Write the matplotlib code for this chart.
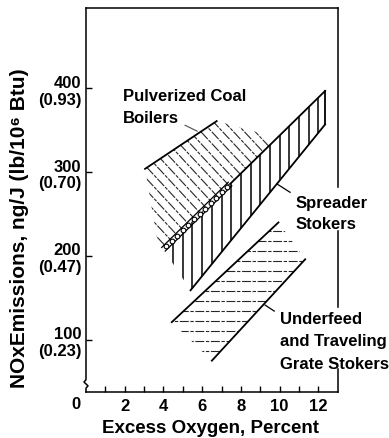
import numpy as np
import matplotlib
matplotlib.use('Agg')
import matplotlib.pyplot as plt
from matplotlib.patches import Polygon
from matplotlib.transforms import offset_copy, blended_transform_factory

plt.rcParams['font.family'] = ['Liberation Sans', 'DejaVu Sans']
plt.rcParams['font.weight'] = 'bold'

# bands: (excess O2 %, NOx ng/J) corners
pulv_x = [3.05, 6.75, 8.8, 9.5, 4.0, 3.67]
pulv_y = [304, 361, 348, 332, 208, 220]
pulv_top_x = [3.05, 6.75]
pulv_top_y = [304, 361]

spr_x = [4.0, 12.35, 12.35, 5.4]
spr_y = [208, 397, 357, 159]
spr_shared_end = 7.44          # boundary shared with the coal band ends here

und_x = [4.43, 9.94, 11.32, 6.5]
und_y = [121, 240, 196, 75]

x_ticks = [2, 4, 6, 8, 10, 12]
y_ticks = [100, 200, 300, 400]
y_labels = ['100\n(0.23)', '200\n(0.47)', '300\n(0.70)', '400\n(0.93)']

fig = plt.figure(figsize=(3.89, 4.39), dpi=100)
ax = fig.add_axes([86 / 389, 1 - 393 / 439, 251.7 / 389, 384 / 439])
ax.set_xlim(0, 13.0)
ax.set_ylim(37.6, 496)

lw_edge = 1.3
lw_hatch = 0.8


def clip_poly(xs, ys):
    p = Polygon(np.column_stack([xs, ys]), closed=True, fill=False, lw=0)
    ax.add_patch(p)
    return p


# --- pulverized coal boilers: diagonal hatch
pp = clip_poly(pulv_x, pulv_y)
for k in np.arange(300, 580, 14):
    xs = np.array([2.0, 11.0])
    ln, = ax.plot(xs, k - 24.9 * xs, color='0.15', lw=lw_hatch,
                  ls=(0, (9, 1.2, 3, 1.2)))
    ln.set_clip_path(pp)
ax.plot(pulv_top_x, pulv_top_y, color='black', lw=lw_edge)

# --- spreader stokers: vertical hatch
sp = clip_poly(spr_x, spr_y)
for xv in np.arange(4.5, 12.01, 0.5):
    ln, = ax.plot([xv, xv], [0, 500], color='black', lw=1.1)
    ln.set_clip_path(sp)
slope = (spr_y[1] - spr_y[0]) / (spr_x[1] - spr_x[0])
ax.plot([spr_shared_end, spr_x[1]],
        [spr_y[0] + slope * (spr_shared_end - spr_x[0]), spr_y[1]],
        color='black', lw=lw_edge)
ax.plot(spr_x[1:3], spr_y[1:3], color='black', lw=lw_edge)
ax.plot(spr_x[2:4], spr_y[2:4], color='black', lw=lw_edge)

# shared boundary drawn as a double line with small rings
cx = np.array([spr_x[0], spr_shared_end])
cy = spr_y[0] + slope * (cx - spr_x[0])
for s in (1, -1):
    tr = offset_copy(ax.transData, fig=fig, x=-1.75 * s, y=1.8 * s, units='dots')
    ax.plot(cx, cy, color='black', lw=0.9, transform=tr)
rx = np.linspace(spr_x[0] + 0.15, spr_shared_end - 0.15, 12)
ax.plot(rx, spr_y[0] + slope * (rx - spr_x[0]), ls='none', marker='o', ms=3.4,
        mfc='white', mec='black', mew=0.8, zorder=3)

# --- underfeed and traveling grate: horizontal broken hatch
up = clip_poly(und_x, und_y)
for yv in np.arange(86, 233, 12):
    ln, = ax.plot([0, 13], [yv, yv], color='0.15', lw=lw_hatch,
                  ls=(0, (8, 1.5, 3, 1.5)))
    ln.set_clip_path(up)
ax.plot(und_x[0:2], und_y[0:2], color='black', lw=lw_edge)
ax.plot(und_x[2:4], und_y[2:4], color='black', lw=lw_edge)

# --- labels with leaders
lab_kw = dict(fontsize=12, fontweight='bold', ha='left', va='top')
ax.text(1.91, 401, 'Pulverized Coal\nBoilers', linespacing=1.65, **lab_kw)
ax.plot([5.12, 5.74], [356, 349], color='0.3', lw=0.8)
ax.text(10.8, 273, 'Spreader\nStokers', linespacing=1.55, **lab_kw)
ax.plot([9.86, 10.54], [286, 276], color='black', lw=0.9)
ax.text(10.03, 134, 'Underfeed\nand Traveling\nGrate Stokers', linespacing=1.6,
        **lab_kw)
ax.plot([9.25, 9.72], [141.4, 134.2], color='black', lw=0.9)

# --- frame: right side broken around the labels, left side with a break mark
for s in ('right', 'left'):
    ax.spines[s].set_visible(False)
for s in ('top', 'bottom'):
    ax.spines[s].set_linewidth(1.1)
ta = ax.transAxes
for y0, y1 in [(0.533, 1.0), (0.221, 0.42), (0.0, 0.06)]:
    ax.plot([1, 1], [y0, y1], color='black', lw=1.1, transform=ta, clip_on=False)
ax.plot([0, 0, -0.008, 0.008, 0, 0], [1.0, 0.032, 0.026, 0.016, 0.010, 0.0],
        color='black', lw=1.1, transform=ta, clip_on=False)

ax.set_xticks(range(1, 13))
ax.set_xticklabels([str(v) if v in x_ticks else '' for v in range(1, 13)])
ax.set_yticks(y_ticks)
ax.set_yticklabels(y_labels, linespacing=1.15)
ax.tick_params(axis='both', direction='in', length=4, width=1.0,
               labelsize=12)
ax.tick_params(axis='x', pad=4)
ax.tick_params(axis='y', pad=3.5)
for t in ax.get_xticklabels() + ax.get_yticklabels():
    t.set_fontweight('bold')
ax.text(-0.52, -0.031, '0', fontsize=12, fontweight='bold', ha='center',
        va='center', transform=blended_transform_factory(ax.transData, ta))

fig.text(0.5424, 0.023, 'Excess Oxygen, Percent', fontsize=13.5,
         fontweight='bold', ha='center', va='center')
fig.text(20 / 389, 0.48, 'NOxEmissions, ng/J (lb/10⁶ Btu)', fontsize=15,
         fontweight='bold', ha='center', va='center', rotation=90)

fig.savefig('out.png', dpi=100)
